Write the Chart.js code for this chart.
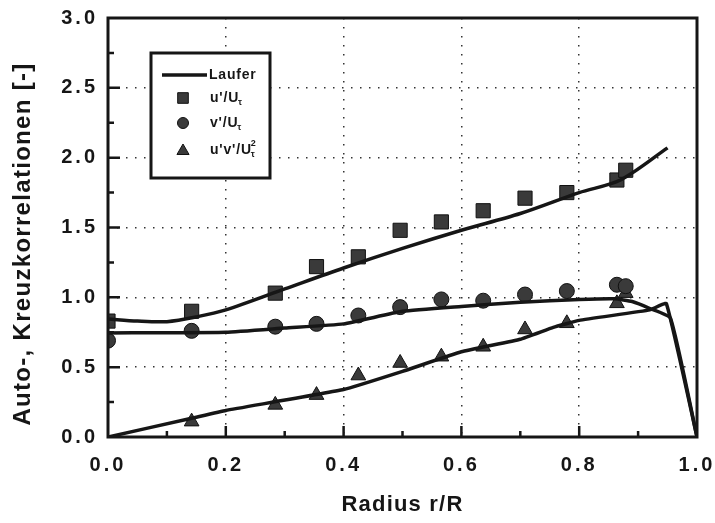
<!DOCTYPE html>
<html>
<head>
<meta charset="utf-8">
<script src="https://cdn.jsdelivr.net/npm/chart.js@4"></script>
<style>
  html, body { margin: 0; padding: 0; background: #fff; }
</style>
</head>
<body>
<canvas id="graph" width="715" height="523"></canvas>
<script>
const radius = [0.0, 0.142, 0.284, 0.354, 0.425, 0.496, 0.566, 0.637, 0.708, 0.779, 0.864, 0.879];
const uPrime = [0.83, 0.90, 1.03, 1.22, 1.29, 1.48, 1.54, 1.62, 1.71, 1.75, 1.84, 1.91];
const vPrime = [0.69, 0.76, 0.79, 0.81, 0.87, 0.93, 0.985, 0.976, 1.02, 1.045, 1.09, 1.08];
const uvPrime = [null, 0.11, 0.23, 0.30, 0.44, 0.53, 0.575, 0.646, 0.77, 0.814, 0.957, 1.03];

// "Laufer" curves
const lineUx = [0, 0.05, 0.1, 0.15, 0.2, 0.3, 0.4, 0.5, 0.6, 0.7, 0.8, 0.87, 0.95];
const lineU  = [0.845, 0.83, 0.826, 0.86, 0.91, 1.06, 1.21, 1.35, 1.48, 1.60, 1.75, 1.84, 2.07];
const lineVx = [0, 0.2, 0.3, 0.4, 0.5, 0.6, 0.7, 0.8, 0.86, 0.89, 0.92, 0.955, 1.0];
const lineV  = [0.745, 0.75, 0.78, 0.81, 0.90, 0.935, 0.965, 0.985, 0.99, 0.97, 0.92, 0.85, 0.0];
const lineUVx = [0, 0.142, 0.2, 0.4, 0.5, 0.6, 0.7, 0.756, 0.8, 0.92, 0.948, 1.0];
const lineUV  = [0.0, 0.134, 0.19, 0.34, 0.47, 0.61, 0.70, 0.785, 0.835, 0.91, 0.955, 0.0];

const xTicks = [0, 0.2, 0.4, 0.6, 0.8, 1.0];
const yTicks = [0, 0.5, 1.0, 1.5, 2.0, 2.5, 3.0];

const FONT = '"Liberation Sans", Arial, sans-serif';
const INK = '#161616';
const MARK = '#3a3a3a';

function pairs(xs, ys) {
  const out = [];
  xs.forEach((x, i) => { if (ys[i] !== null) out.push({x: x, y: ys[i]}); });
  return out;
}

function lineSet(xs, ys, t) {
  return {
    data: pairs(xs, ys), showLine: true, pointRadius: 0,
    borderColor: INK, borderWidth: 3.5, tension: t, fill: false
  };
}

function markSet(ys, style, r) {
  return {
    data: pairs(radius, ys), showLine: false, pointStyle: style, pointRadius: r,
    backgroundColor: MARK, borderColor: '#111', borderWidth: 1
  };
}

// letter spacing: tick labels are wide in the scan
const spacing = {
  id: 'spacing',
  beforeDraw(chart) { chart.ctx.letterSpacing = '1.2px'; },
  afterDatasetsDraw(chart) { chart.ctx.letterSpacing = '3px'; }
};

const frame = {
  id: 'frame',
  afterDraw(chart) {
    const ctx = chart.ctx;
    const a = chart.chartArea;
    const xs = chart.scales.x, ys = chart.scales.y;
    ctx.save();
    ctx.letterSpacing = '0px';
    ctx.strokeStyle = INK;
    ctx.lineCap = 'butt';

    // inward ticks
    ctx.lineWidth = 2.5;
    ctx.beginPath();
    for (let i = 1; i < 12; i++) {
      const py = ys.getPixelForValue(i * 0.25);
      const len = (i % 2 === 0) ? 12 : 6;
      ctx.moveTo(a.left, py); ctx.lineTo(a.left + len, py);
    }
    for (let i = 1; i < 10; i++) {
      const px = xs.getPixelForValue(i * 0.1);
      const len = (i % 2 === 0) ? 11 : 6;
      ctx.moveTo(px, a.bottom); ctx.lineTo(px, a.bottom - len);
    }
    ctx.stroke();

    // frame
    ctx.lineWidth = 3;
    ctx.strokeRect(a.left, a.top, a.right - a.left, a.bottom - a.top);

    // y title
    ctx.save();
    ctx.translate(23, 244);
    ctx.rotate(-Math.PI / 2);
    ctx.fillStyle = INK;
    ctx.font = 'bold 24px ' + FONT;
    ctx.letterSpacing = '1.3px';
    ctx.textAlign = 'center';
    ctx.textBaseline = 'middle';
    ctx.fillText('Auto-, Kreuzkorrelationen [-]', 0, 0);
    ctx.restore();

    // legend
    const lx = 151, ly = 53, lw = 119, lh = 125;
    ctx.fillStyle = '#fff';
    ctx.fillRect(lx, ly, lw, lh);
    ctx.lineWidth = 3;
    ctx.strokeRect(lx, ly, lw, lh);

    ctx.lineWidth = 3.5;
    ctx.beginPath();
    ctx.moveTo(162, 75); ctx.lineTo(207, 75);
    ctx.stroke();

    ctx.fillStyle = MARK;
    ctx.strokeStyle = '#111';
    ctx.lineWidth = 1;
    const h = Chart.helpers;
    h.drawPoint(ctx, {pointStyle: 'rect', radius: 7.5, borderWidth: 1}, 183, 98);
    h.drawPoint(ctx, {pointStyle: 'circle', radius: 5.5, borderWidth: 1}, 183, 123);
    h.drawPoint(ctx, {pointStyle: 'triangle', radius: 7, borderWidth: 1}, 183, 151);

    ctx.fillStyle = INK;
    ctx.textBaseline = 'middle';
    ctx.textAlign = 'left';
    ctx.letterSpacing = '0.8px';
    const big = 'bold 14px ' + FONT, small = 'bold 9px ' + FONT;
    ctx.font = big;
    ctx.fillText('Laufer', 209, 75);

    function sub(text, x, y, sup) {
      ctx.font = big;
      ctx.fillText(text, x, y);
      const w = ctx.measureText(text).width;
      ctx.font = small;
      ctx.fillText('\u03c4', x + w - 1, y + 5);
      if (sup) ctx.fillText(sup, x + w - 1, y - 6);
    }
    sub("u'/U", 210, 98);
    sub("v'/U", 210, 123);
    sub("u'v'/U", 210, 150, '2');
    ctx.restore();
  }
};

const chart = new Chart(document.getElementById('graph').getContext('2d'), {
  type: 'scatter',
  data: {
    datasets: [
      lineSet(lineUx, lineU, 0.3),
      lineSet(lineVx, lineV, 0.15),
      lineSet(lineUVx, lineUV, 0.1),
      markSet(uPrime, 'rect', 10),
      markSet(vPrime, 'circle', 7.5),
      markSet(uvPrime, 'triangle', 8.5)
    ]
  },
  options: {
    responsive: false,
    animation: false,
    layout: { padding: { top: 18, right: 18, left: 0, bottom: 0 } },
    plugins: { legend: { display: false }, tooltip: { enabled: false } },
    scales: {
      x: {
        type: 'linear', min: 0, max: 1,
        afterBuildTicks: (s) => { s.ticks = xTicks.map(v => ({value: v})); },
        afterFit: (s) => { s.height = 86; s.paddingLeft = 0; s.paddingRight = 0; },
        grid: { color: '#333', lineWidth: 1.5, drawTicks: false },
        border: { display: false, dash: [1.5, 7.5] },
        ticks: {
          z: 1, padding: 16, color: INK, maxRotation: 0,
          font: { family: FONT, size: 20, weight: 'bold' },
          callback: (v) => Number(v).toFixed(1)
        },
        title: {
          display: true, text: 'Radius r/R', color: INK,
          font: { family: FONT, size: 22, weight: 'bold' },
          padding: { top: 0, bottom: 5 }
        }
      },
      y: {
        type: 'linear', min: 0, max: 3,
        afterBuildTicks: (s) => { s.ticks = yTicks.map(v => ({value: v})); },
        afterFit: (s) => { s.width = 108; s.paddingTop = 0; s.paddingBottom = 0; },
        grid: { color: '#333', lineWidth: 1.5, drawTicks: false },
        border: { display: false, dash: [1.5, 7.5] },
        ticks: {
          z: 1, padding: 10, color: INK,
          font: { family: FONT, size: 20, weight: 'bold' },
          callback: (v) => Number(v).toFixed(1)
        },
        title: { display: false }
      }
    }
  },
  plugins: [spacing, frame]
});
</script>
</body>
</html>
